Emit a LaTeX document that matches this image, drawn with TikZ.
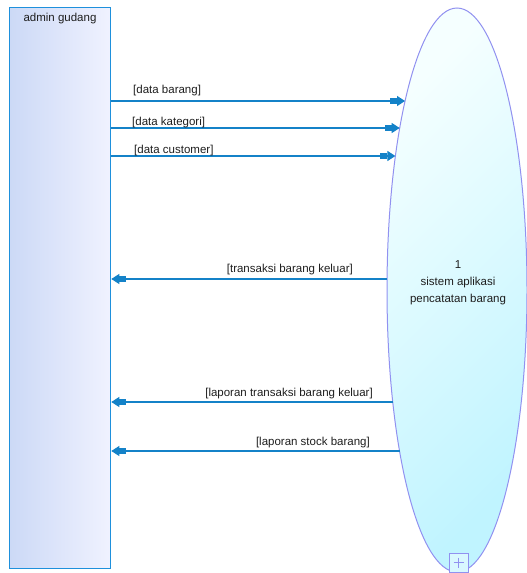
\documentclass[tikz,border=0pt]{standalone}
\usepackage{fontspec}
\setmainfont{Liberation Sans}
\usetikzlibrary{arrows.meta,shapes.geometric}

\definecolor{entityborder}{RGB}{30,144,220}
\definecolor{entityleft}{RGB}{204,217,246}
\definecolor{entityright}{RGB}{240,242,255}
\definecolor{procborder}{RGB}{145,145,240}
\definecolor{proclight}{RGB}{245,255,255}
\definecolor{procdark}{RGB}{192,244,255}
\definecolor{flowblue}{RGB}{20,130,200}
\definecolor{labeltext}{RGB}{30,30,30}

\tikzset{
  entity/.style={draw=entityborder, line width=1.3pt, left color=entityleft,
    right color=entityright, rectangle, inner sep=0pt, anchor=north west},
  process/.style={draw=procborder, line width=1pt, ellipse, inner sep=0pt,
    shading=axis, left color=proclight, right color=procdark, shading angle=45},
  plusbox/.style={draw=procborder, line width=0.9pt, fill=procdark!60!white,
    rectangle, minimum size=19pt, inner sep=0pt},
  flow/.style={draw=flowblue, line width=1.2pt,
    -{Rectangle[length=7pt,width=6.5pt,sep=0pt]Triangle[length=8pt,width=10pt,sep=0pt]}},
  lbl/.style={text=labeltext, font=\fontsize{11.5}{17}\selectfont, inner sep=0pt}
}

\begin{document}
\begin{tikzpicture}[x=1pt,y=-1pt]
\useasboundingbox (0,0) rectangle (527,573);
\clip (0,0) rectangle (527,573);

% external entity
\node[entity, minimum width=101pt, minimum height=561pt] (admin) at (9,7) {};
\node[lbl, anchor=base] (adminlbl) at (60,21.5) {admin gudang};

% process bubble
\node[process, minimum width=140pt, minimum height=564pt] (proc) at (457,290) {};
\node[lbl, align=center, anchor=base] (proclbl) at (458,302)
  {1\\sistem aplikasi\\pencatatan barang};

% expand marker at the bottom of the process
\node[plusbox] (expand) at (458.5,562.5) {};
\draw[procborder, line width=0.9pt] (expand.center) +(-5,0) -- +(5,0);
\draw[procborder, line width=0.9pt] (expand.center) +(0,-5) -- +(0,5);

% points where the flows meet the process border
\coordinate (in1) at (405.05,101);
\coordinate (in2) at (399.7,128);
\coordinate (in3) at (395.4,156);
\coordinate (out1) at (387.05,279);
\coordinate (out2) at (392.8,402);
\coordinate (out3) at (399.5,451);

% incoming flows
\draw[flow] (admin.east |- in1) -- (in1);
\draw[flow] (admin.east |- in2) -- (in2);
\draw[flow] (admin.east |- in3) -- (in3);

% outgoing flows
\draw[flow] (out1) -- (admin.east |- out1);
\draw[flow] (out2) -- (admin.east |- out2);
\draw[flow] (out3) -- (admin.east |- out3);

% flow labels
\node[lbl, anchor=base west] (l1) at (133,93) {[data barang]};
\node[lbl, anchor=base west] (l2) at (132,125) {[data kategori]};
\node[lbl, anchor=base west] (l3) at (134,153) {[data customer]};
\node[lbl, anchor=base east] (l4) at (353,272) {[transaksi barang keluar]};
\node[lbl, anchor=base east] (l5) at (373,396) {[laporan transaksi barang keluar]};
\node[lbl, anchor=base east] (l6) at (370,445) {[laporan stock barang]};
\end{tikzpicture}
\end{document}
